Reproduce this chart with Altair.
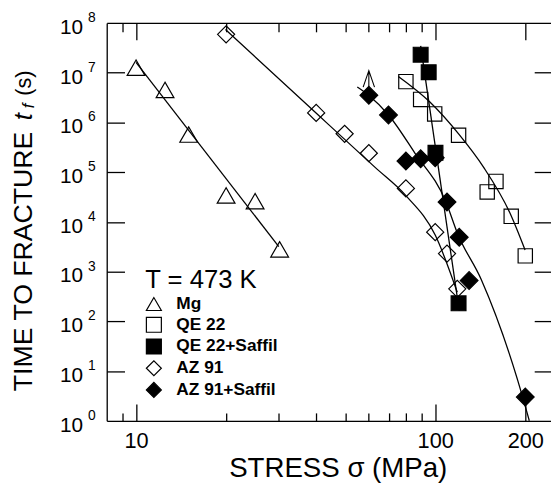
import altair as alt
import pandas as pd

FONT = "Liberation Sans"

series_names = ["Mg", "QE 22", "QE 22+Saffil", "AZ 91", "AZ 91+Saffil"]
series_shapes = ["triangle-up", "square", "square", "diamond", "diamond"]
series_fills = ["transparent", "transparent", "black", "transparent", "black"]
series_sizes = [324, 210, 225, 300, 324]

# measured points (stress MPa, time to fracture s)
mg_x = [10.0, 12.5, 15.0, 20.0, 25.0, 30.2]
mg_y = [1.26e7, 4.5e6, 5.7e5, 3.4e4, 2.6e4, 2.8e3]
qe_x = [79.8, 89.4, 99.6, 119.7, 159.6, 149.2, 179.5, 200.0]
qe_y = [6.6e6, 2.9e6, 1.48e6, 5.5e5, 6.5e4, 4.0e4, 1.29e4, 2.07e3]
qes_x = [89.4, 95.1, 100.2, 119.7]
qes_y = [2.3e7, 1.02e7, 2.44e5, 2.3e2]
az_x = [20.0, 40.0, 49.8, 60.0, 79.8, 100.0, 109.5, 118.5]
az_y = [5.9e7, 1.55e6, 5.9e5, 2.4e5, 4.7e4, 6.2e3, 2.3e3, 4.5e2]
azs_x = [60.0, 69.8, 79.8, 89.4, 100.0, 109.5, 120.3, 129.8, 200.0]
azs_y = [3.5e6, 1.41e6, 1.67e5, 1.85e5, 1.94e5, 2.5e4, 4.9e3, 6.6e2, 3.0]

# fitted curves
fit_mg_x = [10.0, 30.0]
fit_mg_y = [1.61e7, 3.18e3]
fit_qe_x = [75.3, 95.8, 120.3, 145.4, 178.2, 199.7]
fit_qe_y = [8.37e6, 2.59e6, 5.65e5, 1.23e5, 1.46e4, 2.73e3]
fit_qes_x = [89.4, 120.3]
fit_qes_y = [3.45e7, 163.0]
fit_az_x = [19.9, 39.97, 63.1, 79.8, 100.0, 118.5]
fit_az_y = [7.36e7, 1.54e6, 1.23e5, 3.37e4, 5.42e3, 383.0]
fit_azs_x = [54.9, 59.9, 69.8, 85.4, 108.7, 118.7, 142.5, 202.1, 206.3]
fit_azs_y = [5.13e6, 3.51e6, 1.41e6, 2.44e5, 2.48e4, 5.86e3, 694.0, 1.57, 1.0]

# run-out arrow (specimen unbroken)
arrow_x = [60.0]
arrow_y = [3.5e6]

# axis tick values / labels
x_major = [10, 100, 200]
x_minor = [9, 20, 30, 40, 50, 60, 70, 80, 90]
y_decades = [1e1, 1e2, 1e3, 1e4, 1e5, 1e6, 1e7]
y_label_vals = [1e0, 1e1, 1e2, 1e3, 1e4, 1e5, 1e6, 1e7, 1e8]
y_label_exps = ["0", "1", "2", "3", "4", "5", "6", "7", "8"]

X_DOMAIN = [7.98, 243.8]
Y_DOMAIN = [1, 1e8]

pts_rows = []
for name, sz, xs_, ys_ in zip(series_names, series_sizes, [mg_x, qe_x, qes_x, az_x, azs_x],
                              [mg_y, qe_y, qes_y, az_y, azs_y]):
    for a, b in zip(xs_, ys_):
        pts_rows.append({"stress": a, "time": b, "series": name, "sz": sz})
pts = pd.DataFrame(pts_rows)

fit_rows = []
for name, xs_, ys_ in zip(series_names, [fit_mg_x, fit_qe_x, fit_qes_x, fit_az_x, fit_azs_x],
                          [fit_mg_y, fit_qe_y, fit_qes_y, fit_az_y, fit_azs_y]):
    for i, (a, b) in enumerate(zip(xs_, ys_)):
        fit_rows.append({"stress": a, "time": b, "series": name, "ord": i})
fits = pd.DataFrame(fit_rows)

arrow_df = pd.DataFrame({"stress": arrow_x, "time": arrow_y})
ylab_df = pd.DataFrame({"v": y_label_vals, "e": y_label_exps})

xs = alt.Scale(type="log", domain=X_DOMAIN, nice=False)
ys = alt.Scale(type="log", domain=Y_DOMAIN, nice=False)

LW = 1.3
common = dict(grid=False, title=None, labelFont=FONT, titleFont=FONT)


def tick_axis(orient, values, size, offset):
    return alt.Axis(orient=orient, values=values, tickSize=size, offset=offset, domain=False,
                    labels=False, ticks=True, tickColor="black", tickWidth=LW, **common)


main_x = alt.Axis(orient="bottom", values=x_major, format="d", ticks=False, tickSize=0,
                  domain=True, domainColor="black", domainWidth=LW, labelFontSize=22,
                  labelColor="black", labelPadding=10, labelFlush=False, labelOverlap=False,
                  grid=False, title="STRESS σ (MPa)", titleFontSize=28, titleFont=FONT,
                  titleFontWeight="normal", titleColor="black", titlePadding=3, titleX=234,
                  labelFont=FONT)
main_y = alt.Axis(orient="left", domain=True, domainColor="black", domainWidth=LW,
                  labels=False, ticks=False, **common)
top_dom = alt.Axis(orient="top", domain=True, domainColor="black", domainWidth=LW,
                   labels=False, ticks=False, **common)

legend = alt.Legend(orient="none", legendX=39, legendY=247,
                    titleFontSize=26, titleFontWeight="normal", titleColor="black", titleFont=FONT,
                    titlePadding=3, labelFont=FONT, labelFontSize=17.5, labelFontWeight="bold",
                    labelColor="black", labelOffset=14, symbolSize=230, symbolStrokeColor="black",
                    symbolStrokeWidth=1.2, rowPadding=1)
LEG_TITLE = "T = 473 K"

points = alt.Chart(pts).mark_point(filled=True, opacity=1, strokeWidth=1.2).encode(
    x=alt.X("stress:Q", scale=xs, axis=main_x),
    y=alt.Y("time:Q", scale=ys, axis=main_y),
    shape=alt.Shape("series:N", scale=alt.Scale(domain=series_names, range=series_shapes),
                    legend=legend, title=LEG_TITLE),
    fill=alt.Fill("series:N", scale=alt.Scale(domain=series_names, range=series_fills),
                  legend=legend, title=LEG_TITLE),
    stroke=alt.Stroke("series:N", scale=alt.Scale(domain=series_names, range=["black"] * 5),
                      legend=legend, title=LEG_TITLE),
    size=alt.Size("sz:Q", scale=None),
)

lines = alt.Chart(fits).mark_line(color="black", strokeWidth=LW, interpolate="monotone").encode(
    x=alt.X("stress:Q", scale=xs, axis=tick_axis("bottom", x_major, 17, -17)),
    y=alt.Y("time:Q", scale=ys, axis=tick_axis("left", y_decades, 18, -18)),
    detail="series:N",
    order="ord:Q",
)

arrow = alt.Chart(arrow_df).mark_point(
    shape="M0,-1L0,0M-0.23,-0.33L0,-1L0.23,-0.33", size=2500, filled=False,
    stroke="black", strokeWidth=1.1, opacity=1).encode(
    x=alt.X("stress:Q", scale=xs, axis=tick_axis("bottom", x_minor, 8, -8)),
    y=alt.Y("time:Q", scale=ys, axis=tick_axis("right", y_decades, 17, -17)),
)

helper1 = alt.Chart(arrow_df).mark_point(opacity=0).encode(
    x=alt.X("stress:Q", scale=xs, axis=top_dom),
    y=alt.Y("time:Q", scale=ys, axis=None),
)
helper2 = alt.Chart(arrow_df).mark_point(opacity=0).encode(
    x=alt.X("stress:Q", scale=xs, axis=tick_axis("top", x_major, 17, -17)),
    y=alt.Y("time:Q", scale=ys, axis=None),
)
helper3 = alt.Chart(arrow_df).mark_point(opacity=0).encode(
    x=alt.X("stress:Q", scale=xs, axis=tick_axis("top", x_minor, 9, -9)),
    y=alt.Y("time:Q", scale=ys, axis=None),
)

ylab_base = alt.Chart(ylab_df).mark_text(align="right", baseline="middle", fontSize=21, dy=5,
                                         font=FONT, color="black").encode(
    y=alt.Y("v:Q", scale=ys, axis=None), x=alt.value(-24), text=alt.value("10"))
ylab_exp = alt.Chart(ylab_df).mark_text(align="left", baseline="middle", fontSize=14, dy=-5,
                                        font=FONT, color="black").encode(
    y=alt.Y("v:Q", scale=ys, axis=None), x=alt.value(-19), text="e:N")

# y-axis title pieces (rotated)
TX = -84
t1 = alt.Chart(ylab_df.head(1)).mark_text(angle=270, align="left", baseline="middle", fontSize=27,
                                          font=FONT, color="black").encode(
    x=alt.value(TX), y=alt.value(373), text=alt.value("TIME TO FRACTURE"))
t2 = alt.Chart(ylab_df.head(1)).mark_text(angle=270, align="center", baseline="middle", fontSize=26,
                                          font=FONT, fontStyle="italic", color="black").encode(
    x=alt.value(TX), y=alt.value(95), text=alt.value("t"))
t3 = alt.Chart(ylab_df.head(1)).mark_text(angle=270, align="center", baseline="middle", fontSize=17,
                                          font=FONT, fontStyle="italic", color="black").encode(
    x=alt.value(TX + 5), y=alt.value(84), text=alt.value("f"))
t4 = alt.Chart(ylab_df.head(1)).mark_text(angle=270, align="center", baseline="middle", fontSize=22,
                                          font=FONT, color="black").encode(
    x=alt.value(TX), y=alt.value(61), text=alt.value("(s)"))

chart = alt.layer(points, lines, arrow, helper1, helper2, helper3, ylab_base, ylab_exp,
                  t1, t2, t3, t4).resolve_axis(x="independent", y="independent").properties(
    width=450, height=403,
    padding={"left": 100, "top": 12, "right": 0, "bottom": 68},
    autosize=alt.AutoSizeParams(type="none"),
).configure_view(stroke=None).configure(font=FONT)

chart.save("out.html", embed_options={"renderer": "svg", "actions": False})
